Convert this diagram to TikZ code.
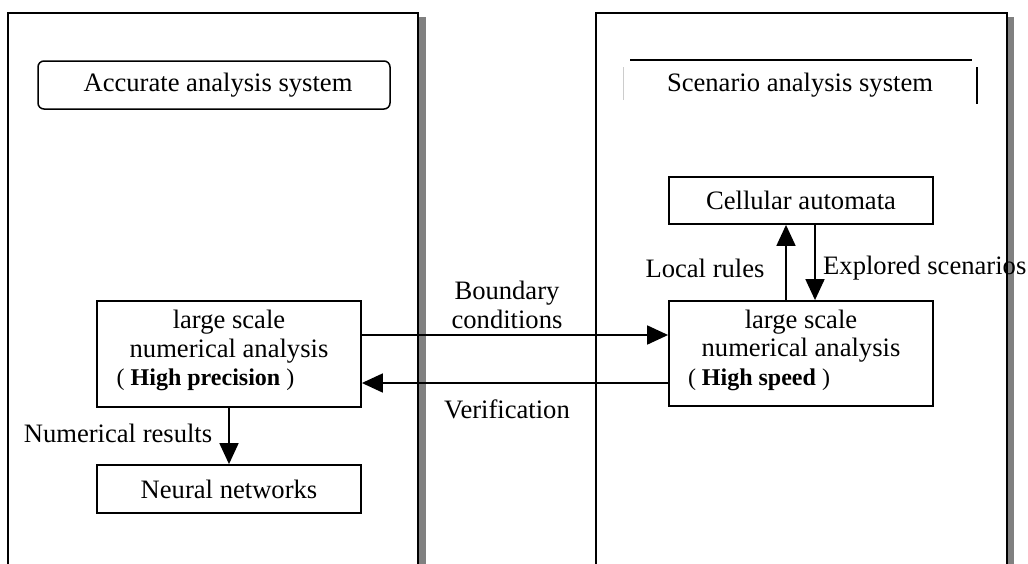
\documentclass[tikz,border=0pt]{standalone}
\usepackage{fontspec}
\setmainfont{Liberation Serif}
\usetikzlibrary{arrows.meta}
\begin{document}
\begin{tikzpicture}[x=1pt,y=-1pt,
  every node/.style={font=\fontsize{26.6}{28.5}\selectfont},
  panel/.style={line width=2pt},
  shadowbar/.style={fill=black!50,draw=none},
  boxnode/.style={draw,line width=1.8pt,minimum width=264pt,align=center,inner sep=0pt},
  lbl/.style={inner sep=0pt,align=center},
  arr/.style={line width=1.8pt,-{Triangle[length=21pt,width=19pt]}}]
\newcommand{\smallline}[1]{{\fontsize{24}{28.5}\selectfont #1}}
\useasboundingbox (0,0) rectangle (1028,563);
\clip (0,0) rectangle (1028,563);
% panels
\fill[shadowbar] (419,17) rectangle (426,570);
\fill[shadowbar] (1008,17) rectangle (1014,570);
\draw[panel] (8,570) -- (8,13) -- (418,13) -- (418,570);
\draw[panel] (596,570) -- (596,13) -- (1007,13) -- (1007,570);
% headers
\node[draw,line width=1.5pt,rounded corners=6pt,minimum width=352pt,minimum height=48pt,inner sep=0pt] (acc) at (214,85) {\hspace*{8pt}Accurate analysis system};
\node[inner sep=0pt] (scen) at (800,85) {Scenario analysis system};
\draw[line width=1.2pt] (630,60) -- (972,60);
\draw[line width=1pt,black!20] (623,67) -- (623,100);
\draw[line width=1.2pt] (977,67) -- (977,104);
% boxes
\node[boxnode,minimum height=47pt] (ca) at (801,200.5) {Cellular automata};
\node[boxnode,minimum height=105pt] (rb) at (801,353.5) {large scale\\numerical analysis\\\smallline{( \textbf{High speed} )}\kern84pt\\[-17pt]};
\node[boxnode,minimum height=106pt] (lb) at (229,354) {large scale\\numerical analysis\\\smallline{( \textbf{High precision} )}\kern47pt\\[-17pt]};
\node[boxnode,minimum height=48pt] (nn) at (229,489) {Neural networks};
% connectors
\draw[arr] ([yshift=19pt]lb.east) -- ([yshift=19pt]lb.east -| rb.west);
\draw[arr] ([yshift=-29pt]lb.east -| rb.west) -- ([yshift=-29pt]lb.east);
\draw[arr] (lb.south) -- (nn.north);
\draw[arr] ([xshift=-15pt]rb.north) -- ([xshift=-15pt]ca.south);
\draw[arr] ([xshift=14pt]ca.south) -- ([xshift=14pt]rb.north);
% labels
\node[lbl] (lbc) at (507,305) {Boundary\\conditions};
\node[lbl] (lver) at (507,409) {Verification};
\node[lbl] (lnum) at (118,433) {Numerical results};
\node[lbl] (lloc) at (705,268) {Local rules};
\node[lbl,anchor=west] (lexp) at (823,268) {Explored scenarios};
\end{tikzpicture}
\end{document}
